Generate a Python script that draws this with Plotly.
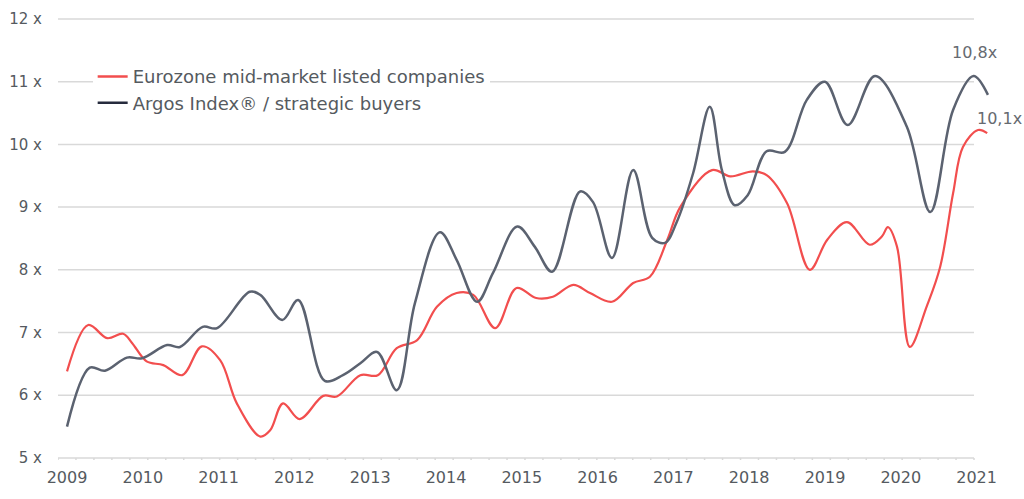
import plotly.graph_objects as go

# ---------------- data ----------------
argos_years = [2009.0, 2009.30, 2009.5, 2009.79, 2009.99, 2010.32, 2010.49, 2010.79, 2010.98,
               2011.41, 2011.55, 2011.84, 2012.05, 2012.40, 2012.64, 2012.87, 2013.09, 2013.35,
               2013.59, 2013.92, 2014.14, 2014.41, 2014.62, 2014.94, 2015.17, 2015.40, 2015.77,
               2015.94, 2016.19, 2016.47, 2016.72, 2016.89, 2017.04, 2017.26, 2017.48, 2017.64,
               2017.81, 2017.98, 2018.23, 2018.47, 2018.76, 2019.0, 2019.30, 2019.66, 2020.08,
               2020.39, 2020.69, 2020.96, 2021.15]
argos_values = [5.5, 6.44, 6.39, 6.6, 6.59, 6.8, 6.77, 7.09, 7.07,
                7.65, 7.6, 7.2, 7.52, 6.23, 6.32, 6.51, 6.69, 6.08,
                7.47, 8.6, 8.16, 7.49, 7.95, 8.69, 8.37, 7.97, 9.25,
                9.08, 8.19, 9.59, 8.51, 8.43, 8.75, 9.54, 10.6, 9.59,
                9.03, 9.19, 9.89, 9.88, 10.71, 11.0, 10.31, 11.09, 10.28,
                8.92, 10.55, 11.09, 10.79]

euro_years = [2009.0, 2009.28, 2009.53, 2009.74, 2009.86, 2010.05, 2010.27, 2010.52, 2010.78,
              2011.02, 2011.24, 2011.55, 2011.68, 2011.85, 2012.07, 2012.38, 2012.56, 2012.87,
              2013.10, 2013.35, 2013.62, 2013.88, 2014.14, 2014.36, 2014.65, 2014.93, 2015.19,
              2015.41, 2015.68, 2015.90, 2016.19, 2016.47, 2016.69, 2016.92, 2017.09, 2017.51,
              2017.75, 2018.05, 2018.23, 2018.50, 2018.80, 2019.03, 2019.29, 2019.59, 2019.75,
              2019.83, 2019.95, 2020.12, 2020.34, 2020.52, 2020.69, 2020.82, 2021.02, 2021.14]
euro_values = [6.38, 7.12, 6.91, 6.98, 6.83, 6.54, 6.48, 6.32, 6.78,
               6.56, 5.87, 5.34, 5.44, 5.87, 5.62, 5.99, 5.98, 6.32,
               6.32, 6.75, 6.88, 7.41, 7.63, 7.6, 7.07, 7.71, 7.55,
               7.57, 7.76, 7.63, 7.49, 7.79, 7.89, 8.48, 9.0, 9.59,
               9.49, 9.57, 9.51, 9.06, 8.0, 8.48, 8.76, 8.40, 8.53,
               8.68, 8.37, 6.77, 7.41, 8.05, 9.22, 9.96, 10.23, 10.18]

year_ticks = list(range(2009, 2022))
year_labels = [str(y) for y in year_ticks]
y_ticks = [5, 6, 7, 8, 9, 10, 11, 12]
y_labels = [f"{v} x" for v in y_ticks]

series_names = ["Eurozone mid-market listed companies", "Argos Index® / strategic buyers"]
end_labels = ["10,1x", "10,8x"]

# ---------------- styles ----------------
RED = "#f24e4e"
GREY = "#5b6270"
GREY_LEGEND = "#262b3d"
TEXT = "#555a60"
GRID = "#d9d9d9"
FONT = "DejaVu Sans"

X_MIN, X_MAX = 2008.881, 2021.243
GRID_X0, GRID_X1 = 2008.881, 2020.966
PX_PER_UNIT_Y = 62.71

fig = go.Figure()

fig.add_trace(go.Scatter(x=euro_years, y=euro_values, mode="lines",
                         line=dict(color=RED, width=2.2, shape="spline", smoothing=1.0),
                         showlegend=False, hoverinfo="skip"))
fig.add_trace(go.Scatter(x=argos_years, y=argos_values, mode="lines",
                         line=dict(color=GREY, width=2.5, shape="spline", smoothing=1.0),
                         showlegend=False, hoverinfo="skip"))

# legend entries
fig.add_trace(go.Scatter(x=[None], y=[None], mode="lines", name=series_names[0],
                         line=dict(color=RED, width=2.5)))
fig.add_trace(go.Scatter(x=[None], y=[None], mode="lines", name=series_names[1],
                         line=dict(color=GREY_LEGEND, width=2.5)))

shapes = []
for v in y_ticks:
    shapes.append(dict(type="line", xref="x", yref="y", x0=GRID_X0, x1=GRID_X1, y0=v, y1=v,
                       line=dict(color=GRID, width=1.5), layer="below"))
# small tick marks below the baseline
n_int = 51
step = (GRID_X1 - GRID_X0) / n_int
for i in range(n_int + 1):
    xv = GRID_X0 + i * step
    shapes.append(dict(type="line", xref="x", yref="y", x0=xv, x1=xv,
                       y0=y_ticks[0], y1=y_ticks[0] - 4 / PX_PER_UNIT_Y,
                       line=dict(color=GRID, width=1.5), layer="below"))

fig.update_layout(
    width=1024, height=499,
    margin=dict(l=58, r=29, t=6, b=39, autoexpand=False),
    paper_bgcolor="white", plot_bgcolor="white",
    font=dict(family=FONT, color=TEXT, size=15),
    showlegend=True,
    legend=dict(x=0.037, y=0.885, xanchor="left", yanchor="top",
                bgcolor="white", font=dict(size=18, color=TEXT, family=FONT),
                tracegroupgap=0, itemwidth=30),
    xaxis=dict(range=[X_MIN, X_MAX], tickvals=year_ticks, ticktext=year_labels,
               showgrid=False, zeroline=False, showline=False, ticks="", automargin=False,
               tickfont=dict(size=16, color=TEXT, family=FONT), ticklabelstandoff=6),
    yaxis=dict(range=[4.967, 12.207], tickvals=y_ticks, ticktext=y_labels,
               showgrid=False, zeroline=False, showline=False, ticks="", automargin=False,
               tickfont=dict(size=15, color=TEXT, family=FONT), ticklabelstandoff=15),
    shapes=shapes,
    annotations=[
        dict(x=2020.98, y=10.41, xref="x", yref="y", text=end_labels[0], showarrow=False,
             xanchor="left", yanchor="middle", font=dict(size=16, color="#666a70", family=FONT)),
        dict(x=2020.97, y=11.47, xref="x", yref="y", text=end_labels[1], showarrow=False,
             xanchor="center", yanchor="middle", font=dict(size=16, color="#666a70", family=FONT)),
    ],
)

fig.write_html("out.html", config={"displayModeBar": False},
               post_script="document.body.style.margin='0';document.body.style.overflow='hidden';")
